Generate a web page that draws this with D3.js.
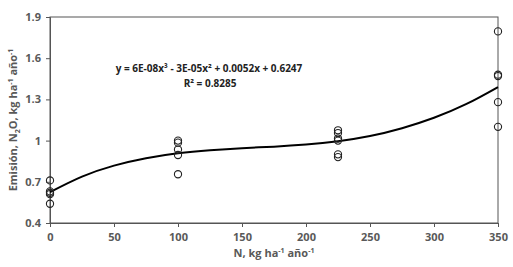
<!DOCTYPE html>
<html>
<head>
<meta charset="utf-8">
<script src="https://cdn.jsdelivr.net/npm/d3@7"></script>
<style>
  html, body { margin: 0; padding: 0; background: #fff; }
  svg { display: block; }
</style>
</head>
<body>
<div id="chart"></div>
<script>
const WIDTH = 513;
const HEIGHT = 267;
const LABEL_FONT = "'Open Sans', 'Liberation Sans', sans-serif";
const TICK_COLOR = '#595959';

// observed emissions
const doseN = [0, 0, 0, 0, 0,
  100, 100, 100, 100, 100,
  225, 225, 225, 225, 225, 225,
  350, 350, 350, 350, 350];
const emission = [0.71, 0.63, 0.62, 0.61, 0.54,
  1.0, 0.985, 0.935, 0.895, 0.755,
  1.075, 1.055, 1.015, 1.0, 0.9, 0.88,
  1.795, 1.48, 1.47, 1.28, 1.1];

// fitted trend line
const trendN = [0, 25, 50, 75, 100, 125, 150, 175, 200, 225, 250, 275, 300, 325, 350];
const trendY = [0.625, 0.738, 0.818, 0.872, 0.908, 0.93, 0.945, 0.956, 0.971, 0.995, 1.033, 1.09, 1.166, 1.265, 1.39];

const xTicks = [0, 50, 100, 150, 200, 250, 300, 350];
const yTicks = [0.4, 0.7, 1, 1.3, 1.6, 1.9];

const equationText = 'y = 6E-08x³ - 3E-05x² + 0.0052x + 0.6247';
const r2Text = 'R² = 0.8285';

const margin = { top: 17, right: 15, bottom: 44, left: 50 };
const w = 498 - margin.left;
const h = 223 - margin.top;

const svg = d3.select('#chart')
  .append('svg')
  .attr('width', WIDTH)
  .attr('height', HEIGHT);

const g = svg.append('g')
  .attr('transform', `translate(${margin.left},${margin.top})`);

const xScale = d3.scaleLinear().domain([0, 350]).range([0, w]);
const yScale = d3.scaleLinear().domain([0.4, 1.9]).range([h, 0]);

// plot box
g.append('rect')
  .attr('x', 0).attr('y', 0)
  .attr('width', w).attr('height', h)
  .attr('fill', 'none')
  .attr('stroke', '#555')
  .attr('stroke-width', 1);

// x axis
const xAxis = g.append('g')
  .attr('transform', `translate(0,${h})`)
  .call(d3.axisBottom(xScale).tickValues(xTicks).tickSize(4).tickPadding(6).tickFormat(d3.format('d')));

// y axis
const yAxis = g.append('g')
  .call(d3.axisLeft(yScale).tickValues(yTicks).tickSize(4).tickPadding(5).tickFormat(d => String(d)));

[xAxis, yAxis].forEach(ax => {
  ax.select('.domain').attr('stroke', '#555');
  ax.selectAll('.tick line').attr('stroke', '#555');
  ax.selectAll('.tick text')
    .attr('fill', TICK_COLOR)
    .style('font-family', LABEL_FONT)
    .style('font-weight', 'bold')
    .style('font-size', '11px');
});

// trend line
g.append('path')
  .datum(trendN)
  .attr('fill', 'none')
  .attr('stroke', '#000')
  .attr('stroke-width', 2)
  .attr('d', d3.line()
    .curve(d3.curveNatural)
    .x(d => xScale(d))
    .y((_d, i) => yScale(trendY[i])));

// observations
g.selectAll('circle.obs')
  .data(doseN)
  .enter()
  .append('circle')
  .attr('class', 'obs')
  .attr('cx', d => xScale(d))
  .attr('cy', (_d, i) => yScale(emission[i]))
  .attr('r', 3.6)
  .attr('fill', 'none')
  .attr('stroke', '#222')
  .attr('stroke-width', 1.1);

// equation
svg.append('text')
  .attr('x', 209)
  .attr('y', 72)
  .attr('text-anchor', 'middle')
  .style('font-family', LABEL_FONT)
  .style('font-weight', 'bold')
  .style('font-size', '10px')
  .attr('fill', '#222')
  .text(equationText);

svg.append('text')
  .attr('x', 210)
  .attr('y', 87)
  .attr('text-anchor', 'middle')
  .style('font-family', LABEL_FONT)
  .style('font-weight', 'bold')
  .style('font-size', '10px')
  .attr('fill', '#222')
  .text(r2Text);

// x title
const xTitle = svg.append('text')
  .attr('x', 274)
  .attr('y', 257)
  .attr('text-anchor', 'middle')
  .style('font-family', LABEL_FONT)
  .style('font-weight', 'bold')
  .style('font-size', '11px')
  .attr('fill', TICK_COLOR);
xTitle.append('tspan').text('N, kg ha');
xTitle.append('tspan').attr('dy', -4).style('font-size', '7px').text('-1');
xTitle.append('tspan').attr('dy', 4).text(' año');
xTitle.append('tspan').attr('dy', -4).style('font-size', '7px').text('-1');

// y title
const yTitle = svg.append('text')
  .attr('transform', 'translate(17,120) rotate(-90)')
  .attr('text-anchor', 'middle')
  .style('font-family', LABEL_FONT)
  .style('font-weight', 'bold')
  .style('font-size', '11px')
  .attr('fill', TICK_COLOR);
yTitle.append('tspan').text('Emisión, N');
yTitle.append('tspan').attr('dy', 3).style('font-size', '7px').text('2');
yTitle.append('tspan').attr('dy', -3).text('O, kg ha');
yTitle.append('tspan').attr('dy', -4).style('font-size', '7px').text('-1');
yTitle.append('tspan').attr('dy', 4).text(' año');
yTitle.append('tspan').attr('dy', -4).style('font-size', '7px').text('-1');
</script>
</body>
</html>
